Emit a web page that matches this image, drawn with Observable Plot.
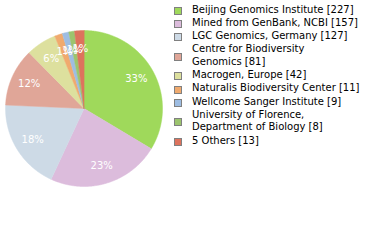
<!DOCTYPE html>
<html>
<head>
<meta charset="utf-8">
<script src="https://cdn.jsdelivr.net/npm/d3@7"></script>
<script src="https://cdn.jsdelivr.net/npm/@observablehq/plot@0.6"></script>
<style>
  html, body { margin: 0; padding: 0; background: #fff; }
  #wrap { position: relative; width: 380px; height: 240px; overflow: hidden; font-family: "DejaVu Sans", sans-serif; }
  #chart { position: absolute; left: 0; top: 0; }
  #legend { position: absolute; left: 174px; top: 3.5px; width: 206px; font-size: 10px; color: #000; }
  .item { display: flex; align-items: center; margin-bottom: 0.85px; }
  .sw { box-sizing: border-box; width: 8px; height: 8px; border: 1px solid #808080; flex: none; margin-top: 2px; margin-right: 10px; }
  .lbl { line-height: 12.45px; white-space: pre; }
</style>
</head>
<body>
<div id="wrap">
  <div id="chart"></div>
  <div id="legend"></div>
</div>
<script>
const names = [
  "Beijing Genomics Institute",
  "Mined from GenBank, NCBI",
  "LGC Genomics, Germany",
  "Centre for Biodiversity\nGenomics",
  "Macrogen, Europe",
  "Naturalis Biodiversity Center",
  "Wellcome Sanger Institute",
  "University of Florence,\nDepartment of Biology",
  "5 Others"
];
const counts = [227, 157, 127, 81, 42, 11, 9, 8, 13];
const colors = ["#9fd95b", "#dcbcdc", "#cddae6", "#e0a698", "#dde09e", "#f0aa6e", "#9ebde2", "#9cc46e", "#dd735d"];

const total = d3.sum(counts);
const pts = [];
const labels = [];
let acc = 0;
names.forEach((name, i) => {
  const a0 = acc / total * 2 * Math.PI;
  acc += counts[i];
  const a1 = acc / total * 2 * Math.PI;
  pts.push({name, x: 0, y: 0});
  const n = Math.max(2, Math.ceil((a1 - a0) / (Math.PI / 360)));
  for (let k = 0; k <= n; k++) {
    const a = a0 + (a1 - a0) * k / n;
    pts.push({name, x: Math.sin(a), y: Math.cos(a)});
  }
  const am = (a0 + a1) / 2;
  const r = 0.765;
  labels.push({name, x: r * Math.sin(am), y: r * Math.cos(am), text: Math.floor(counts[i] / total * 100) + "%"});
});

const chart = Plot.plot({
  width: 166,
  height: 240,
  marginLeft: 5,
  marginRight: 4,
  marginTop: 30,
  marginBottom: 54,
  x: {domain: [-1, 1], axis: null},
  y: {domain: [-1, 1], axis: null},
  color: {domain: names, range: colors},
  style: {fontFamily: "DejaVu Sans", background: "transparent"},
  marks: [
    Plot.line(pts, {x: "x", y: "y", z: "name", fill: "name", stroke: "name", strokeWidth: 0.5, curve: "linear-closed"}),
    Plot.text(labels, {x: "x", y: "y", text: "text", fill: "white", fontSize: 10})
  ]
});
document.getElementById("chart").appendChild(chart);

const legend = document.getElementById("legend");
names.forEach((name, i) => {
  const item = document.createElement("div");
  item.className = "item";
  const sw = document.createElement("div");
  sw.className = "sw";
  sw.style.background = colors[i];
  const lbl = document.createElement("div");
  lbl.className = "lbl";
  lbl.textContent = name + " [" + counts[i] + "]";
  item.appendChild(sw);
  item.appendChild(lbl);
  legend.appendChild(item);
});
</script>
</body>
</html>
